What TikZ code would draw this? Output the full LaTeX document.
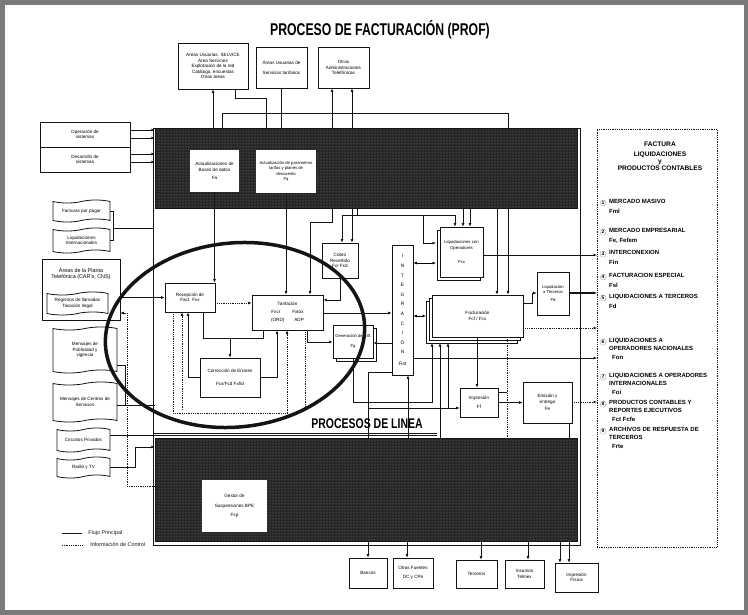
\documentclass[tikz,border=0pt]{standalone}
\usepackage{fontspec}
\setmainfont{Liberation Sans}
\usepackage{tikz}
\usetikzlibrary{shapes.symbols, arrows.meta, positioning, calc, shadows, patterns}
\definecolor{inkblack}{HTML}{141414}
\definecolor{bandgray}{HTML}{262626}
\definecolor{speckgray}{HTML}{8C8C8C}
\definecolor{scangray}{HTML}{7A7A7A}

\newcommand{\tinytxt}{\fontsize{4.6}{5.6}\selectfont}
\newcommand{\itemtxt}{\fontsize{6}{9.5}\selectfont}

\begin{document}
\begin{tikzpicture}[x=1pt, y=-1pt,
    proc/.style={draw=inkblack, thick, fill=white, align=center, inner sep=0.5pt, font=\tinytxt},
    docu/.style={tape, tape bend height=3pt, draw=inkblack, thick, fill=white, align=center, inner sep=0.5pt, font=\tinytxt},
    band/.style={draw=inkblack, preaction={fill=bandgray}, pattern=dots, pattern color=speckgray, inner sep=0pt},
    flow/.style={-{Latex[length=3.5pt, width=3pt]}, thick, color=inkblack},
    link/.style={thick, color=inkblack},
    ctrl/.style={densely dotted, thick, color=inkblack},
    num/.style={circle, draw=inkblack, densely dotted, inner sep=0.6pt, font=\fontsize{5}{5}\selectfont\bfseries},
    item/.style={anchor=north west, align=left, inner sep=0pt, font=\itemtxt\bfseries}
]
\useasboundingbox (0,0) rectangle (748,615);

% Scan border
\draw[line width=5pt, scangray] (2,3) rectangle (746,612);

% Title
\node[font=\bfseries\fontsize{17}{17}\selectfont] (title) at (380,30) {\scalebox{0.72}[1]{PROCESO DE FACTURACIÓN (PROF)}};

% Frame and the two dark bands
\draw[link, thin] (153,128) rectangle (580,545);
\node[band, minimum width=422, minimum height=80] (band1) at (366,168) {};
\node[band, minimum width=422, minimum height=103] (band2) at (366,489.5) {};

% Upper sources
\node[proc, minimum width=70, minimum height=46] (areasU) at (213,66) {Areas Usuarias: SELVICE\\ Area Servicios\\ Explotación de la red\\ Catálogo, encuestas\\ Otras áreas};
\node[proc, minimum width=51, minimum height=41] (areasT) at (281.5,67.5) {Áreas Usuarias de\\[5pt] Servicios tarifarios};
\node[proc, minimum width=51, minimum height=41] (otras) at (343.5,67.5) {Otras\\ Administraciones\\ Telefónicas};

\draw[flow] (band1.north -| areasU.south) -- (areasU.south);
\draw[link] ($(areasU.south)+(22,0)$) -- ++(0,9) -| (266,128);
\draw[link] (areasT.south) -- (areasT.south |- band1.north);
\draw[flow] (332,128) -- (otras.south -| 332,0);
\draw[flow] (352,128) -- (otras.south -| 352,0);
\draw[link] (222,128) -- (222,113) -- (508,113) -- (508,128);

% Boxes inside the upper band
\node[proc, draw=none, minimum width=49, minimum height=42] (actBD) at (214.5,171) {Actualizaciones de\\ Bases de datos\\[3pt] Fa};
\node[proc, draw=none, minimum width=60, minimum height=43, font=\fontsize{4.2}{5.4}\selectfont] (actPar) at (286,171.5) {Actualización de parámetros\\ tarifas y planes de\\ descuento\\ Fq};

% Left column
\node[proc, minimum width=90, minimum height=25] (operac) at (85,134.5) {Operación de\\ sistemas};
\node[proc, minimum width=90, minimum height=25] (desarr) at (85,159.5) {Desarrollo de\\ sistemas};
\draw[flow] (operac.east |- 0,130) -- (band1.west |- 0,130);
\draw[flow] (operac.east |- 0,138) -- (band1.west |- 0,138);
\draw[flow] (desarr.east |- 0,154) -- (band1.west |- 0,154);
\draw[flow] (desarr.east |- 0,162) -- (band1.west |- 0,162);

\node[docu, minimum width=57, minimum height=22] (factPag) at (81.5,211) {Facturas por pagar};
\node[docu, minimum width=57, minimum height=25] (liqInt) at (81.5,240.5) {Liquidaciones\\ Internacionales};
\draw[link] (factPag.east) -- (113,211) -- (113,240.5) -- (liqInt.east);
\draw[link] (113,228) -- (153,228);

\node[draw=inkblack, thick, minimum width=78, minimum height=61] (planta) at (81,289.5) {};
\node[font=\fontsize{5.4}{6.4}\selectfont, align=center] (plantaT) at (81,274) {Áreas de la Planta\\ Telefónica (CAR's, CNS)};
\node[docu, minimum width=61, minimum height=23] (regis) at (77.5,303.5) {Registros de llamadas\\ Tasación Ilegal};

\node[docu, minimum width=64, minimum height=46] (publi) at (85,350) {Mensajes de\\ Publicidad y\\ vigencia};
\node[docu, minimum width=64, minimum height=40] (centros) at (85,402) {Mensajes de Centros de\\ Servicios};
\draw[link] (publi.east |- 0,365) -- (125,365) -- (125,405);
\draw[link] (centros.east |- 0,405) -- (155,405);

\node[docu, minimum width=53, minimum height=24] (circ) at (83.5,440) {Circuitos Privados};
\node[docu, minimum width=53, minimum height=21] (radio) at (83.5,467.5) {Radio y TV};
\draw[link] (circ.east |- 0,435) -- (437,435);
\draw[flow] (radio.east) -- (135,467.5) -- (135,447) -- (band2.west |- 0,447);

\draw[ctrl, -{Latex[length=3.5pt, width=3pt]}] (band2.west |- 0,486) -- (127,486) -- (127,313) -- (planta.east |- 0,313);

% Legend
\coordinate (legA) at (62,533);
\coordinate (legB) at (62,545);
\draw[link] (legA) -- ++(20,0) node[right=6pt, inner sep=0pt, font=\fontsize{5.4}{6}\selectfont] (legAt) {Flujo Principal};
\draw[ctrl] (legB) -- ++(20,0) node[right=8pt, inner sep=0pt, font=\fontsize{5.4}{6}\selectfont] (legBt) {Información de Control};

% Central processes
\node[proc, minimum width=50, minimum height=29] (recep) at (190,297.5) {Recepción de\\ Fact. Fxx};
\node[proc, minimum width=71, minimum height=35] (tarif) at (287.5,312.5) {Tarifación\\[2pt] Fxcr\hspace{12pt}Fxtox\\[3pt] (ORD)\hspace{10pt}ADP};
\node[proc, minimum width=60, minimum height=39] (correc) at (230,377.5) {Corrección de Errores\\[7pt] Fcx/Fcd Fxf/d};
\node[proc, minimum width=36, minimum height=35] (cobro) at (340,260.5) {Cobro\\ Revertido\\ Fcr Fcd};
\node[proc, minimum width=40, minimum height=33, font=\fontsize{4.2}{5.4}\selectfont, copy shadow={shadow xshift=3pt, shadow yshift=-3pt, draw=inkblack, thick, fill=white}] (gener) at (353,341.5) {Generación de SIS\\[5pt] Fg};
\node[proc, minimum width=21, minimum height=130, font=\fontsize{4.8}{9.6}\selectfont] (integ) at (402.5,310) {I\\N\\T\\E\\G\\R\\A\\C\\I\\Ó\\N\\[2pt]Fint};
\node[proc, minimum width=43, minimum height=50, font=\fontsize{4.3}{5.4}\selectfont, copy shadow={shadow xshift=-3pt, shadow yshift=-3pt, draw=inkblack, thick, fill=white}] (liqOp) at (461.5,252) {Liquidaciones con\\ Operadores\\[9pt] Fxx};
\node[proc, minimum width=91, minimum height=42, double copy shadow={shadow xshift=-3pt, shadow yshift=-3pt, draw=inkblack, thick, fill=white}] (factu) at (477.5,316) {Facturación\\ Fcf / Fcx};
\node[proc, minimum width=32, minimum height=43, font=\fontsize{4.2}{5.4}\selectfont] (liqTer) at (553,293.5) {Liquidación\\ a Terceros\\[3pt] Fd};
\node[proc, minimum width=38, minimum height=29] (impr) at (479,402.5) {Impresión\\[3pt] Ff};
\node[proc, minimum width=49, minimum height=41] (emis) at (547.5,402.5) {Emisión y\\ entrega\\[2pt] Fe};

% Links from the upper band
\draw[flow] (actBD.south) -- (actBD.south |- recep.north);
\draw[flow] (actPar.south) -- (actPar.south |- tarif.north);
\draw[flow] (332,208) -- (332,222) -- (310,222) -- (tarif.north -| 310,0);
\draw[flow] (357,208) |- (342,215) -- (cobro.north -| 342,0);
\draw[flow] (352,208) -- (cobro.north -| 352,0);
\draw[flow] (357,215) -- (455,215) -- (liqOp.north -| 455,0);
\draw[flow] (423,215) |- (436,243);
\draw[flow] (463,208) -- (liqOp.north -| 463,0);
\draw[flow] (470,208) -- (liqOp.north -| 470,0);
\draw[flow] (497,208) -- (factu.north -| 497,0);
\draw[flow] (508,208) -- (factu.north -| 508,0);

% Reception, rating and corrections
\draw[flow] (planta.east |- recep.west) -- (recep.west);
\draw[ctrl, -{Latex[length=3.5pt, width=3pt]}] (recep.east |- 0,303) -- (tarif.west |- 0,303);
\draw[link] (recep.south -| 203,0) |- (263,338) -- (tarif.south -| 263,0);
\draw[flow] (230,338) -- (correc.north -| 230,0);
\draw[flow] (correc.west) -| (recep.south -| 188,0);
\draw[flow] (correc.east) -| (tarif.south -| 277,0);
\draw[ctrl, -{Latex[length=3.5pt, width=3pt]}] (182,410) -- (recep.south -| 182,0);
\draw[ctrl] (recep.south -| 173,0) -- (173,413) -- (287,413);
\draw[ctrl, -{Latex[length=3.5pt, width=3pt]}] (287,413) -- (tarif.south -| 287,0);
\draw[ctrl] (tarif.south -| 305,0) -- (305,410);
\draw[flow] (tarif.south -| 307,0) |- (gener.west |- 0,342);
\draw[flow] (tarif.east |- 0,313) -- (integ.west |- 0,313);
\draw[flow] (cobro.south) |- (tarif.east |- 0,300);
\draw[flow] (integ.west |- 0,343) -- (gener.east |- 0,343);

% Integration and billing
\draw[{Latex[length=3.5pt, width=3pt]}-{Latex[length=3.5pt, width=3pt]}, thick] (integ.east |- 0,263) -- (436,263);
\draw[{Latex[length=3.5pt, width=3pt]}-{Latex[length=3.5pt, width=3pt]}, thick] (integ.east |- 0,316) -- (426,316);
\draw[flow] (integ.east |- 0,358) -- (597,358);
\draw[link] (integ.west |- 0,372) -- (368,372) -- (368,438);
\draw[flow] (408,438) -- (integ.south -| 408,0);
\draw[flow] (gener.south) |- (432,402) -- (432,343);
\draw[flow] (440,438) -- (440,343);
\draw[link] (368,408) -- (448,408);
\draw[flow] (448,408) -- (impr.west |- 0,408);
\draw[flow] (448,408) -- (448,343);
\draw[flow] (factu.south -| 477,0) -- (impr.north -| 477,0);
\draw[flow] (impr) -- (emis);
\draw[link] (impr.east |- 0,392) -- (507,392);
\draw[ctrl] (factu.south -| 507,0) -- (507,438);
\draw[link] (emis.south -| 569,0) -- (569,438);
\draw[flow] (liqOp.east |- 0,255) -- (597,255);
\draw[flow] (factu.east |- 0,303) -| (532,293) -- (liqTer.west |- 0,293);
\draw[flow, line width=1.3pt] (liqTer.east |- 0,293) -- (597,293);
\draw[ctrl, -{Latex[length=3.5pt, width=3pt]}] (factu.east |- 0,328) -- (597,328);
\draw[ctrl, -{Latex[length=3.5pt, width=3pt]}] (emis.east |- 0,402) -- (597,402);

% Lower band
\node[proc, draw=none, minimum width=65, minimum height=52] (gestor) at (234.5,506) {Gestor de\\[4pt] Suspensiones BPE\\[4pt] Fsp};
\node[font=\bfseries\fontsize{14}{14}\selectfont] (linea) at (367,424) {\scalebox{0.75}[1]{PROCESOS DE LINEA}};
\draw[link] (153,433) -- (437,433);

% Outputs below the frame
\node[proc, minimum width=38, minimum height=30] (bancos) at (368,573) {Bancos};
\node[proc, minimum width=40, minimum height=30] (otrasF) at (413,573) {Otras Fuentes\\[4pt] DC y CPe};
\node[proc, minimum width=41, minimum height=28] (terceros) at (476.5,574) {Terceros};
\node[proc, minimum width=39, minimum height=28] (insumos) at (524.5,574) {Insumos\\ Telmex};
\node[proc, minimum width=43, minimum height=29] (impFis) at (576.5,577.5) {Impresión\\ Física};
\draw[flow] (band2.south -| bancos.north) -- (bancos.north);
\draw[flow] (band2.south -| 407,0) -- (otrasF.north -| 407,0);
\draw[flow] (band2.south -| 481,0) -- (terceros.north -| 481,0);
\draw[flow] (band2.south -| 528,0) -- (insumos.north -| 528,0);
\draw[flow] (band2.south -| 560,0) -- (impFis.north -| 560,0);
\draw[flow] (band2.south -| 569,0) -- (impFis.north -| 569,0);

% Right column: products
\node[draw=inkblack, densely dotted, thick, minimum width=120, minimum height=418] (rcol) at (657,338) {};
\node[font=\fontsize{6.6}{10}\selectfont\bfseries, align=center] (rhead) at (660,156) {FACTURA\\ LIQUIDACIONES\\[-3pt] y\\[-3pt] PRODUCTOS CONTABLES};

\node[num] (n1) at (603,203) {1};
\node[item] (i1) at (609,199.5) {MERCADO MASIVO\\ Fml};
\node[num] (n2) at (603,232) {2};
\node[item] (i2) at (609,228.5) {MERCADO EMPRESARIAL\\ Fe, Fefem};
\node[num] (n3) at (603,254) {3};
\node[item] (i3) at (609,250.5) {INTERCONEXION\\ Fin};
\node[num] (n4) at (603,277) {4};
\node[item] (i4) at (609,273.5) {FACTURACION ESPECIAL\\ Fsl};
\node[num] (n5) at (603,298) {5};
\node[item] (i5) at (609,294.5) {LIQUIDACIONES A TERCEROS\\ Fd};
\node[num] (n6) at (603,342) {6};
\node[item] (i6) at (609,338.5) {LIQUIDACIONES A\\[-2pt] OPERADORES NACIONALES\\ \hspace{3pt}Fon};
\node[num] (n7) at (603,377) {7};
\node[item] (i7) at (609,373.5) {LIQUIDACIONES A OPERADORES\\[-2pt] INTERNACIONALES\\ \hspace{3pt}Foi};
\node[num] (n8) at (603,404) {8};
\node[item] (i8) at (609,400.5) {PRODUCTOS CONTABLES Y\\[-2pt] REPORTES EJECUTIVOS\\ \hspace{3pt}Fct Fcfe};
\node[num] (n9) at (603,431) {9};
\node[item] (i9) at (609,427.5) {ARCHIVOS DE RESPUESTA DE\\[-2pt] TERCEROS\\ \hspace{3pt}Frte};

% Highlight ring
\draw[line width=3.5pt, color=inkblack, rotate around={6:(235,335)}] (235,335) ellipse [x radius=130, y radius=92];

\end{tikzpicture}
\end{document}
